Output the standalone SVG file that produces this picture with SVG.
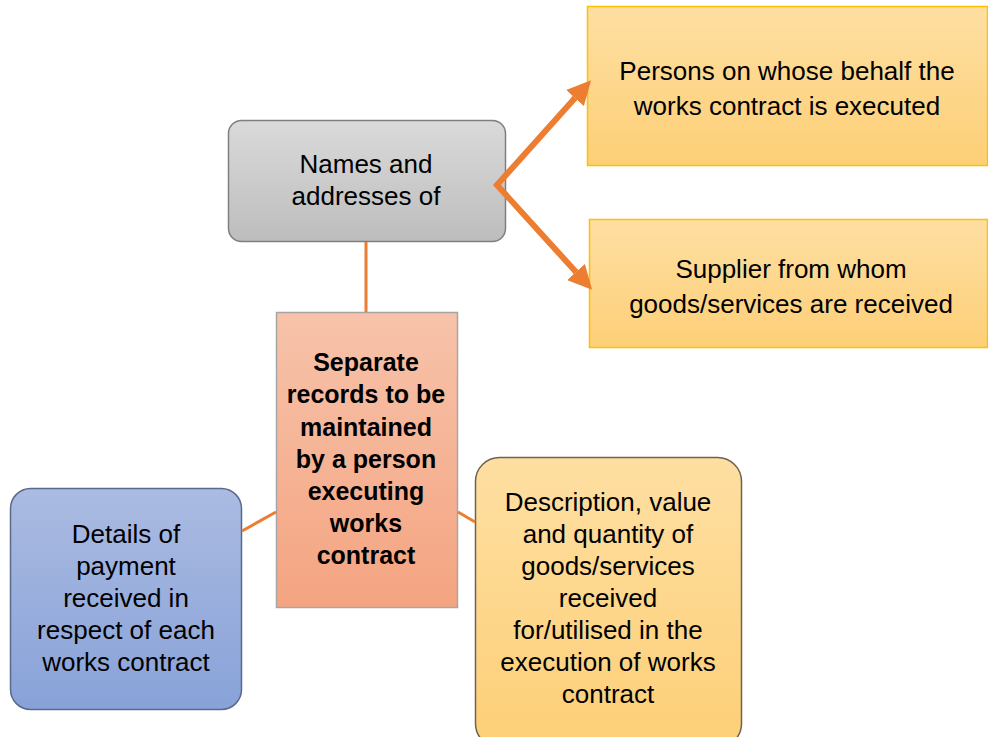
<svg xmlns="http://www.w3.org/2000/svg" width="988" height="737" viewBox="0 0 988 737">
<defs>
<linearGradient id="gGray" x1="0" y1="0" x2="0" y2="1"><stop offset="0" stop-color="#dadada"/><stop offset="1" stop-color="#bdbdbd"/></linearGradient>
<linearGradient id="gGold" x1="0" y1="0" x2="0" y2="1"><stop offset="0" stop-color="#fedfa2"/><stop offset="1" stop-color="#fdcf77"/></linearGradient>
<linearGradient id="gSalmon" x1="0" y1="0" x2="0" y2="1"><stop offset="0" stop-color="#f7c3aa"/><stop offset="1" stop-color="#f4a481"/></linearGradient>
<linearGradient id="gBlue" x1="0" y1="0" x2="0" y2="1"><stop offset="0" stop-color="#abbbe2"/><stop offset="1" stop-color="#88a2d8"/></linearGradient>
<marker id="arr" viewBox="0 0 10 10" refX="0" refY="5" markerWidth="4" markerHeight="4" orient="auto" markerUnits="strokeWidth">
<path d="M0,0 L10,5 L0,10 Z" fill="#ed7d31"/>
</marker>
</defs>
<style>
text{font-family:"Liberation Sans",Arial,sans-serif;fill:#000;text-anchor:middle}
.t{font-size:26px}
.tb{font-size:25px;font-weight:bold}
.line{stroke:#ed7d31;stroke-width:3;fill:none}
.arrow{stroke:#ed7d31;stroke-width:6;fill:none;stroke-linejoin:miter}
</style>
<rect width="988" height="737" fill="#fff"/>
<g id="names">
<rect x="228.5" y="120.5" width="277" height="121" rx="13" fill="url(#gGray)" stroke="#7f7f7f" stroke-width="1.5"/>
<text class="t" x="366" y="173">Names and</text>
<text class="t" x="366" y="205">addresses of</text>
</g>
<g id="persons">
<rect x="587.5" y="6.5" width="400" height="159" fill="url(#gGold)" stroke="#ffc000" stroke-width="1.5"/>
<text class="t" x="787" y="80">Persons on whose behalf the</text>
<text class="t" x="787" y="115">works contract is executed</text>
</g>
<g id="supplier">
<rect x="589.5" y="219.5" width="398" height="128" fill="url(#gGold)" stroke="#ffc000" stroke-width="1.5"/>
<text class="t" x="791" y="278">Supplier from whom</text>
<text class="t" x="791" y="313">goods/services are received</text>
</g>
<g id="records">
<rect x="276.5" y="312.5" width="181" height="295" fill="url(#gSalmon)" stroke="#a6a6a6" stroke-width="1.5"/>
<text class="tb" x="366" y="371">Separate</text>
<text class="tb" x="366" y="403">records to be</text>
<text class="tb" x="366" y="436">maintained</text>
<text class="tb" x="366" y="468">by a person</text>
<text class="tb" x="366" y="500">executing</text>
<text class="tb" x="366" y="532">works</text>
<text class="tb" x="366" y="564">contract</text>
</g>
<g id="payment">
<rect x="10.5" y="488.5" width="231" height="221" rx="20" fill="url(#gBlue)" stroke="#5a6a8a" stroke-width="1.5"/>
<text class="t" x="126" y="543">Details of</text>
<text class="t" x="126" y="575">payment</text>
<text class="t" x="126" y="607">received in</text>
<text class="t" x="126" y="639">respect of each</text>
<text class="t" x="126" y="671">works contract</text>
</g>
<g id="description">
<rect x="475.5" y="457.5" width="266" height="290" rx="24" fill="url(#gGold)" stroke="#6f6350" stroke-width="1.5"/>
<text class="t" x="608" y="511">Description, value</text>
<text class="t" x="608" y="543">and quantity of</text>
<text class="t" x="608" y="575">goods/services</text>
<text class="t" x="608" y="607">received</text>
<text class="t" x="608" y="639">for/utilised in the</text>
<text class="t" x="608" y="671">execution of works</text>
<text class="t" x="608" y="703">contract</text>
</g>
<g id="connectors">
<line class="line" x1="366" y1="242" x2="366" y2="312"/>
<line class="line" x1="276" y1="512" x2="242" y2="531"/>
<line class="line" x1="458" y1="512" x2="475" y2="522"/>
<path class="arrow" d="M575,98 L497,185 L576,272"/>
<line class="arrow" x1="574" y1="99.1" x2="575" y2="98" marker-end="url(#arr)"/>
<line class="arrow" x1="575" y1="270.9" x2="576" y2="272" marker-end="url(#arr)"/>
</g>
</svg>
